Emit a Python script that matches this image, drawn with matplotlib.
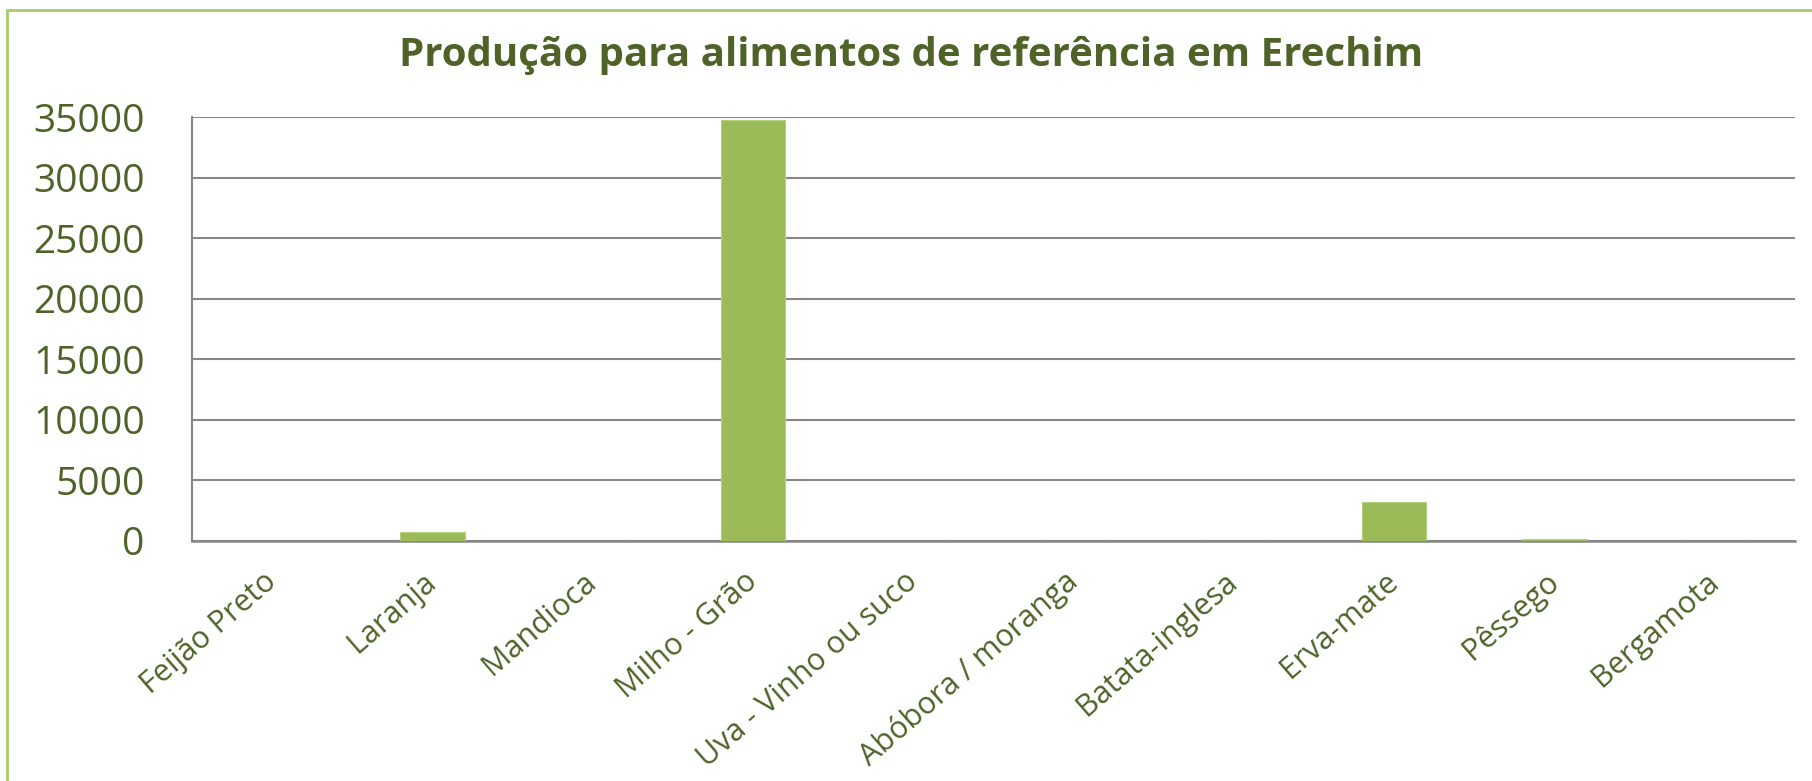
import matplotlib
matplotlib.use("Agg")
import matplotlib.pyplot as plt
from matplotlib.patches import Rectangle

categories = ["Feijão Preto", "Laranja", "Mandioca", "Milho - Grão", "Uva - Vinho ou suco",
              "Abóbora / moranga", "Batata-inglesa", "Erva-mate", "Pêssego", "Bergamota"]
values = [0, 720, 0, 34780, 0, 0, 0, 3210, 90, 0]
yticks = [0, 5000, 10000, 15000, 20000, 25000, 30000, 35000]
title = "Produção para alimentos de referência em Erechim"

TEXT = "#4F6228"
BAR = "#9BBB59"
GRID = "#878787"
BORDER = "#A9CB6B"

W, H = 1812, 781
fig = plt.figure(figsize=(W / 100, H / 100), dpi=100)
fig.patch.set_facecolor("white")

# chart border (extends past image on right/bottom)
fig.patches.append(Rectangle((7 / W, -0.1), 1.2, 1 - 10 / H + 0.1, transform=fig.transFigure,
                             fill=False, edgecolor=BORDER, linewidth=2.0, zorder=0))

ax = fig.add_axes([192 / W, 1 - 540.5 / H, (1795 - 192) / W, (540.5 - 117.3) / H])
x = list(range(len(categories)))
ax.bar(x, values, width=0.4, color=BAR, edgecolor="#B5D07F", linewidth=0.8, zorder=3)
ax.set_xlim(-0.5, len(categories) - 0.5)
ax.set_ylim(0, 35000)
ax.set_yticks(yticks)
ax.set_yticklabels([str(v) for v in yticks])
ax.yaxis.grid(True, color=GRID, linewidth=1.5, zorder=1)
ax.set_axisbelow(True)
for s in ["top", "right"]:
    ax.spines[s].set_visible(False)
ax.spines["left"].set_color(GRID)
ax.spines["left"].set_linewidth(1.5)
ax.spines["bottom"].set_color(GRID)
ax.spines["bottom"].set_linewidth(1.8)
ax.tick_params(axis="both", length=0)
ax.tick_params(axis="y", pad=34, labelsize=28, labelcolor=TEXT)
for lbl in ax.get_yticklabels():
    lbl.set_fontfamily("Open Sans")

ax.set_xticks(x)
ax.set_xticklabels(categories, rotation=41, ha="right", rotation_mode="anchor",
                   fontsize=22, color=TEXT, fontfamily="Open Sans", va="center")
ax.tick_params(axis="x", pad=27)

fig.text(911 / W, 1 - 66 / H, title, ha="center", va="baseline", fontsize=29,
         fontweight="bold", color=TEXT, fontfamily="Open Sans")

fig.savefig("out.png", dpi=100, facecolor="white")
